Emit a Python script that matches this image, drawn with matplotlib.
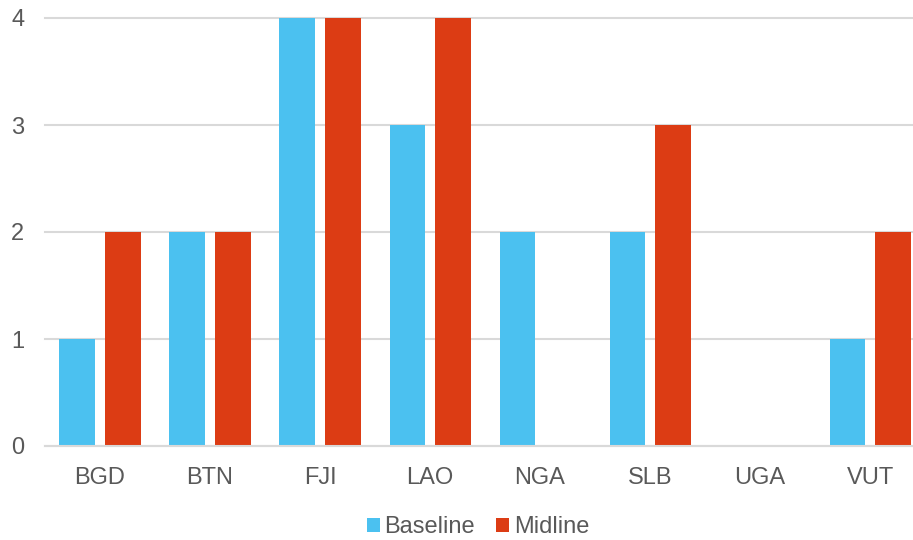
import matplotlib.pyplot as plt
import numpy as np

plt.rcParams['font.family'] = ['Liberation Sans', 'DejaVu Sans']

countries = ["BGD", "BTN", "FJI", "LAO", "NGA", "SLB", "UGA", "VUT"]
baseline = [1, 2, 4, 3, 2, 2, 0, 1]
midline = [2, 2, 4, 4, 0, 3, 0, 2]

text_col = "#595959"
line_col = "#D9D9D9"

fig = plt.figure(figsize=(9.13, 5.4), dpi=100)
ax = fig.add_axes([45 / 913, 94 / 540, 868 / 913, 428 / 540])

x = np.arange(len(countries))
w = 0.323
off = 0.207
ax.bar(x - off, baseline, w, color="#4BC1F0", label="Baseline", zorder=3)
ax.bar(x + off, midline, w, color="#DC3C14", label="Midline", zorder=3)

ax.set_xlim(-0.5, 7.39)
ax.set_ylim(0, 4)
ax.set_yticks([0, 1, 2, 3, 4])
ax.set_xticks(x)
ax.set_xticklabels(countries)

ax.grid(axis="y", color=line_col, linewidth=1.5, zorder=0)
for g in ax.get_ygridlines():
    g.set_clip_on(False)
for s in ["top", "right", "left"]:
    ax.spines[s].set_visible(False)
ax.spines["bottom"].set_color(line_col)
ax.spines["bottom"].set_linewidth(1.5)
ax.spines["bottom"].set_zorder(4)

ax.tick_params(axis="both", length=0, labelsize=17, colors=text_col)
ax.tick_params(axis="y", pad=15)
ax.tick_params(axis="x", pad=15)

fig.legend(loc="center", bbox_to_anchor=(478 / 913, 1 - 527 / 540), ncol=2,
           frameon=False, fontsize=17, labelcolor=text_col,
           handlelength=0.55, handleheight=0.55, handletextpad=0.2,
           columnspacing=0.9)

fig.savefig("out.png", dpi=100)
